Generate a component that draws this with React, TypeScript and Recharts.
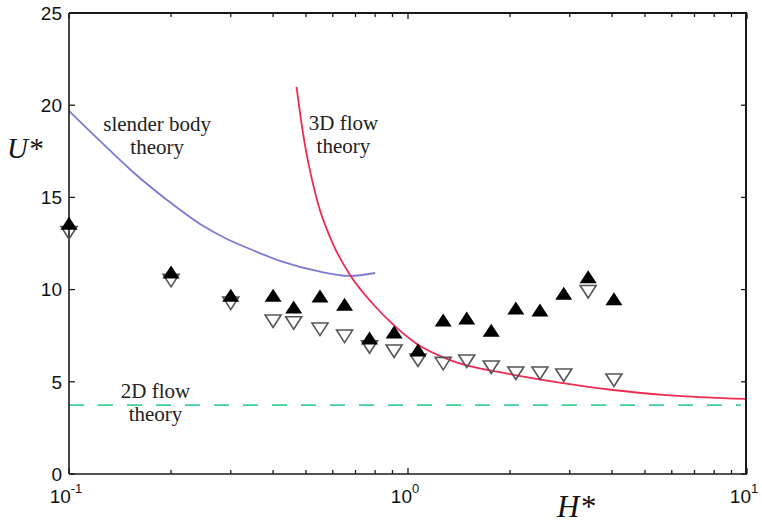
import React from 'react'
import { ComposedChart, XAxis, YAxis, Line, Scatter, ReferenceDot } from 'recharts'

// measured points: H* positions shared by both experiment series
const hPoints = [0.1, 0.2, 0.3, 0.4, 0.46, 0.55, 0.65, 0.77, 0.91, 1.07, 1.27, 1.49, 1.76, 2.08, 2.45, 2.88, 3.4, 4.05]
const uFilled = [13.6, 10.95, 9.7, 9.7, 9.05, 9.65, 9.2, 7.37, 7.7, 6.72, 8.35, 8.46, 7.8, 9.0, 8.9, 9.8, 10.7, 9.5]
const uOpen = [13.1, 10.5, 9.27, 8.3, 8.2, 7.86, 7.48, 6.9, 6.67, 6.18, 6.0, 6.13, 5.8, 5.48, 5.48, 5.37, 9.9, 5.1]

// theory curves
const slenderH = [0.1, 0.1234, 0.1544, 0.1946, 0.2434, 0.2885, 0.3418, 0.4279, 0.5379, 0.6736, 0.8]
const slenderU = [19.69, 18.06, 16.38, 14.86, 13.56, 12.8, 12.2, 11.5, 11.01, 10.74, 10.9]
const flow3dH = [0.469, 0.49, 0.539, 0.601, 0.6745, 0.788, 0.903, 1.063, 1.33, 2.0, 2.866, 4.025, 5.808, 10]
const flow3dU = [20.99, 18.49, 14.86, 12.47, 10.79, 9.22, 8.11, 7.05, 6.18, 5.42, 4.93, 4.555, 4.28, 4.07]
const flow2dH = [0.1, 9.6]
const flow2dU = [3.74, 3.74]

const majorX = [0.1, 1, 10]
const exponents = ['-1', '0', '1']
const minorX = [0.2, 0.3, 0.4, 0.5, 0.6, 0.7, 0.8, 0.9, 2, 3, 4, 5, 6, 7, 8, 9]
const yTicks = [0, 5, 10, 15, 20, 25]
const X_MIN = 0.1
const X_MAX = 10
const Y_MIN = 0
const Y_MAX = 25

const zip = (hs: number[], us: number[]) => hs.map((h, i) => ({ h, u: us[i] }))

const filledData = zip(hPoints, uFilled)
const openData = zip(hPoints, uOpen)
const slenderData = zip(slenderH, slenderU)
const flow3dData = zip(flow3dH, flow3dU)
const flow2dData = zip(flow2dH, flow2dU)

const allX = [...majorX, ...minorX].sort((a, b) => a - b)

// anchor points for the inward ticks on the top and right sides of the box
const topTickPts = allX.map((h) => ({ h, u: Y_MAX }))
const rightTickPts = yTicks.map((u) => ({ h: X_MAX, u }))

const W = 762
const H = 525
const MARGIN = { top: 13, right: 15, bottom: 0, left: 0 }
const Y_AXIS_W = 69
const X_AXIS_H = 51

const AXIS = '#1a1a1a'
const SANS = '"Liberation Sans", Arial, sans-serif'
const SERIF = '"Liberation Serif", "Times New Roman", serif'

function BottomTick({ x, y, payload }: any) {
  const idx = majorX.indexOf(payload.value)
  const major = idx >= 0
  return (
    <g>
      <line x1={x} y1={y} x2={x} y2={y - (major ? 6 : 4)} stroke={AXIS} strokeWidth={1.3} />
      {major && (
        <text x={x - 3} y={y + 29} textAnchor="middle" fontFamily={SANS} fontSize={19} fill="#111">
          10
          <tspan fontSize={13} dy={-10}>{exponents[idx]}</tspan>
        </text>
      )}
    </g>
  )
}

function LeftTick({ x, y, payload }: any) {
  return (
    <g>
      <line x1={x} y1={y} x2={x + 6} y2={y} stroke={AXIS} strokeWidth={1.3} />
      <text x={x - 7} y={y} dy="0.36em" textAnchor="end" fontFamily={SANS} fontSize={19} fill="#111">
        {payload.value}
      </text>
    </g>
  )
}

function TopTickMark({ cx, cy, payload }: any) {
  const len = majorX.includes(payload.h) ? 6 : 4
  return <line x1={cx} y1={cy} x2={cx} y2={cy + len} stroke={AXIS} strokeWidth={1.3} />
}

function RightTickMark({ cx, cy }: any) {
  return <line x1={cx} y1={cy} x2={cx - 6} y2={cy} stroke={AXIS} strokeWidth={1.3} />
}

function UpTriangle({ cx, cy }: any) {
  return <polygon points={`${cx},${cy - 6.5} ${cx + 8.5},${cy + 6.5} ${cx - 8.5},${cy + 6.5}`} fill="#000" />
}

function DownTriangle({ cx, cy }: any) {
  return (
    <polygon
      points={`${cx - 8},${cy - 6} ${cx + 8},${cy - 6} ${cx},${cy + 6.5}`}
      fill="none"
      stroke="#555"
      strokeWidth={1.6}
    />
  )
}

// two-line text note anchored at the first line's baseline
function Note({ viewBox, lines }: any) {
  const { x, y } = viewBox
  return (
    <text x={x} y={y} textAnchor="middle" fontFamily={SERIF} fontSize={21} fill="#222">
      {lines.map((l: string, i: number) => (
        <tspan key={i} x={x} dy={i === 0 ? 0 : 23}>
          {l}
        </tspan>
      ))}
    </text>
  )
}

const ax = { xAxisId: 'bottom', yAxisId: 'left' }

// plot box edges from the chart layout
const boxLeft = MARGIN.left + Y_AXIS_W
const boxTop = MARGIN.top
const boxRight = W - MARGIN.right
const boxBottom = H - MARGIN.bottom - X_AXIS_H

export default function App() {
  return (
    <div style={{ position: 'absolute', left: 0, top: 0, width: W, height: H, background: '#fff' }}>
      <ComposedChart width={W} height={H} margin={MARGIN}>
        <XAxis
          xAxisId="bottom"
          dataKey="h"
          type="number"
          scale="log"
          domain={[X_MIN, X_MAX]}
          ticks={allX}
          interval={0}
          height={X_AXIS_H}
          tickSize={0}
          tickMargin={0}
          tickLine={false}
          tick={<BottomTick />}
          axisLine={{ stroke: AXIS, strokeWidth: 1.6 }}
        />
        <YAxis
          yAxisId="left"
          dataKey="u"
          type="number"
          domain={[Y_MIN, Y_MAX]}
          ticks={yTicks}
          interval={0}
          width={Y_AXIS_W}
          tickSize={0}
          tickMargin={0}
          tickLine={false}
          tick={<LeftTick />}
          axisLine={{ stroke: AXIS, strokeWidth: 1.6 }}
        />

        <Scatter {...ax} data={openData} shape={<DownTriangle />} isAnimationActive={false} />
        <Scatter {...ax} data={filledData} shape={<UpTriangle />} isAnimationActive={false} />

        <Line
          {...ax}
          data={slenderData}
          dataKey="u"
          type="monotone"
          stroke="#7b7bd6"
          strokeWidth={1.8}
          dot={false}
          isAnimationActive={false}
        />
        <Line
          {...ax}
          data={flow3dData}
          dataKey="u"
          type="monotone"
          stroke="#ee2b55"
          strokeWidth={1.8}
          dot={false}
          isAnimationActive={false}
        />
        <Line
          {...ax}
          data={flow2dData}
          dataKey="u"
          type="linear"
          stroke="#3fd296"
          strokeWidth={1.8}
          strokeDasharray="15 14"
          dot={false}
          isAnimationActive={false}
        />

        <Scatter {...ax} data={topTickPts} shape={<TopTickMark />} isAnimationActive={false} />
        <Scatter {...ax} data={rightTickPts} shape={<RightTickMark />} isAnimationActive={false} />

        <ReferenceDot {...ax} x={0.182} y={18.6} r={0} stroke="none" fill="none"
          label={<Note lines={['slender body', 'theory']} />} />
        <ReferenceDot {...ax} x={0.645} y={18.65} r={0} stroke="none" fill="none"
          label={<Note lines={['3D flow', 'theory']} />} />
        <ReferenceDot {...ax} x={0.18} y={4.12} r={0} stroke="none" fill="none"
          label={<Note lines={['2D flow', 'theory']} />} />

        <text x={7} y={158} fontFamily={SERIF} fontStyle="italic" fontSize={29} fill="#111">U*</text>
        <text x={557} y={517} fontFamily={SERIF} fontStyle="italic" fontSize={31} fill="#111">H*</text>
      </ComposedChart>
      {/* top and right sides of the box, laid over the chart */}
      <div
        style={{
          position: 'absolute',
          left: boxLeft,
          top: boxTop - 1,
          width: boxRight - boxLeft,
          height: boxBottom - boxTop + 1,
          borderTop: `2px solid ${AXIS}`,
          borderRight: `2px solid ${AXIS}`,
          boxSizing: 'border-box',
          pointerEvents: 'none',
        }}
      />
    </div>
  )
}
